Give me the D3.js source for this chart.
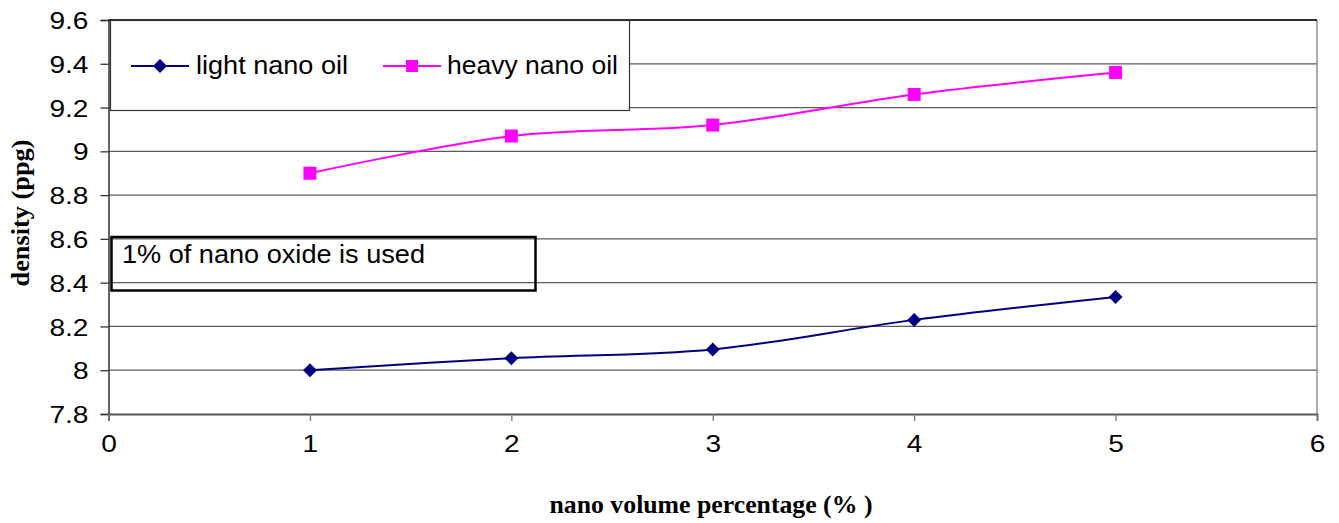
<!DOCTYPE html>
<html>
<head>
<meta charset="utf-8">
<script src="https://cdn.jsdelivr.net/npm/d3@7"></script>
<style>
  html, body { margin: 0; padding: 0; background: #fff; }
  svg { display: block; }
</style>
</head>
<body>
<svg id="chart" width="1339" height="523"></svg>
<script>
const xValues = [1, 2, 3, 4, 5];
const lightNanoOil = [8.0, 8.055, 8.095, 8.23, 8.335];
const heavyNanoOil = [8.9, 9.07, 9.12, 9.26, 9.36];
const seriesNames = ["light nano oil", "heavy nano oil"];
const xTicks = [0, 1, 2, 3, 4, 5, 6];
const yTicks = [7.8, 8, 8.2, 8.4, 8.6, 8.8, 9, 9.2, 9.4, 9.6];
const yTickLabels = ["7.8", "8", "8.2", "8.4", "8.6", "8.8", "9", "9.2", "9.4", "9.6"];
const annotation = "1% of nano oxide is used";
const xTitle = "nano volume percentage (% )";
const yTitle = "density (ppg)";

const svg = d3.select("#chart");
const L = 108.5, R = 1317, T = 20, B = 414;
const x = d3.scaleLinear().domain([0, 6]).range([L, R]);
const y = d3.scaleLinear().domain([7.8, 9.6]).range([B, T]);
const sans = "'Liberation Sans', Arial, sans-serif";
const serif = "'Liberation Serif', 'Times New Roman', serif";
const stretch = 1.17;

// gridlines
svg.append("g").selectAll("line").data(yTicks.slice(1)).join("line")
  .attr("x1", L).attr("x2", R)
  .attr("y1", d => y(d)).attr("y2", d => y(d))
  .attr("stroke", "#5a5a5a").attr("stroke-width", 1.3);

// plot border right
svg.append("line").attr("x1", R).attr("x2", R).attr("y1", T).attr("y2", B)
  .attr("stroke", "#808080").attr("stroke-width", 1.3);

// y axis
const yAxis = d3.axisLeft(y).tickValues(yTicks)
  .tickFormat((d, i) => yTickLabels[i]).tickSize(8).tickPadding(12);
const gy = svg.append("g").attr("transform", `translate(${L},0)`).call(yAxis);
gy.select(".domain").attr("stroke", "#333").attr("stroke-width", 1.5);
gy.selectAll(".tick line").attr("stroke", "#333").attr("stroke-width", 1.3);
gy.selectAll("text").attr("font-family", sans).attr("font-size", 24).attr("fill", "#000")
  .attr("dy", "0.36em")
  .each(function () {
    const w = this.getComputedTextLength();
    d3.select(this).attr("textLength", w * stretch).attr("lengthAdjust", "spacingAndGlyphs");
  });

// x axis
const xAxis = d3.axisBottom(x).tickValues(xTicks).tickFormat(d3.format("d"))
  .tickSize(7).tickPadding(12);
const gx = svg.append("g").attr("transform", `translate(0,${B})`).call(xAxis);
gx.select(".domain").attr("stroke", "#555").attr("stroke-width", 1.8);
gx.selectAll(".tick line").attr("stroke", "#777").attr("stroke-width", 1.3);
gx.selectAll("text").attr("font-family", sans).attr("font-size", 24).attr("fill", "#000")
  .attr("dy", "0.78em")
  .each(function () {
    const w = this.getComputedTextLength();
    d3.select(this).attr("textLength", w * stretch).attr("lengthAdjust", "spacingAndGlyphs");
  });

// lines
const line = d3.line().x((d, i) => x(xValues[i])).y(d => y(d)).curve(d3.curveCardinal.tension(0));
const colors = ["#000080", "#FF00FF"];
[lightNanoOil, heavyNanoOil].forEach((vals, si) => {
  svg.append("path").datum(vals).attr("d", line)
    .attr("fill", "none").attr("stroke", colors[si]).attr("stroke-width", 2);
});
// markers
svg.append("g").selectAll("path").data(lightNanoOil).join("path")
  .attr("transform", (d, i) => `translate(${x(xValues[i])},${y(d)})`)
  .attr("d", "M0,-7L7,0L0,7L-7,0Z").attr("fill", colors[0]);
svg.append("g").selectAll("rect").data(heavyNanoOil).join("rect")
  .attr("x", (d, i) => x(xValues[i]) - 6.5).attr("y", d => y(d) - 6.5)
  .attr("width", 13).attr("height", 13).attr("fill", colors[1]);

// top border of plot
svg.append("line").attr("x1", L).attr("x2", R).attr("y1", T).attr("y2", T)
  .attr("stroke", "#111").attr("stroke-width", 1.3);

// legend
const lg = svg.append("g");
lg.append("rect").attr("x", 110.5).attr("y", 20.5).attr("width", 519).attr("height", 90)
  .attr("fill", "#fff").attr("stroke", "#333").attr("stroke-width", 1.2);
const legendItems = [
  {x0: 131, x1: 189, tx: 196, w: 152},
  {x0: 383, x1: 441, tx: 447, w: 171}
];
legendItems.forEach((it, i) => {
  lg.append("line").attr("x1", it.x0).attr("x2", it.x1).attr("y1", 66).attr("y2", 66)
    .attr("stroke", colors[i]).attr("stroke-width", 2);
  const cx = (it.x0 + it.x1) / 2;
  if (i === 0) {
    lg.append("path").attr("transform", `translate(${cx},66)`)
      .attr("d", "M0,-7L7,0L0,7L-7,0Z").attr("fill", colors[0]);
  } else {
    lg.append("rect").attr("x", cx - 6).attr("y", 60).attr("width", 12).attr("height", 12)
      .attr("fill", colors[1]);
  }
  lg.append("text").attr("x", it.tx).attr("y", 73.5).text(seriesNames[i])
    .attr("font-family", sans).attr("font-size", 25).attr("fill", "#000")
    .attr("textLength", it.w).attr("lengthAdjust", "spacingAndGlyphs");
});

// annotation box
svg.append("rect").attr("x", 111.5).attr("y", 237).attr("width", 424).attr("height", 53.5)
  .attr("fill", "none").attr("stroke", "#000").attr("stroke-width", 2.5);
svg.append("text").attr("x", 122).attr("y", 263).text(annotation)
  .attr("font-family", sans).attr("font-size", 25).attr("fill", "#000")
  .attr("textLength", 303).attr("lengthAdjust", "spacingAndGlyphs");

// axis titles
svg.append("text").attr("x", 711).attr("y", 513).attr("text-anchor", "middle")
  .text(xTitle).attr("font-family", serif).attr("font-weight", "bold").attr("font-size", 26)
  .attr("textLength", 323).attr("lengthAdjust", "spacingAndGlyphs");
svg.append("text").attr("transform", "translate(29,213) rotate(-90)").attr("text-anchor", "middle")
  .text(yTitle).attr("font-family", serif).attr("font-weight", "bold").attr("font-size", 26)
  .attr("textLength", 147).attr("lengthAdjust", "spacingAndGlyphs");
</script>
</body>
</html>
